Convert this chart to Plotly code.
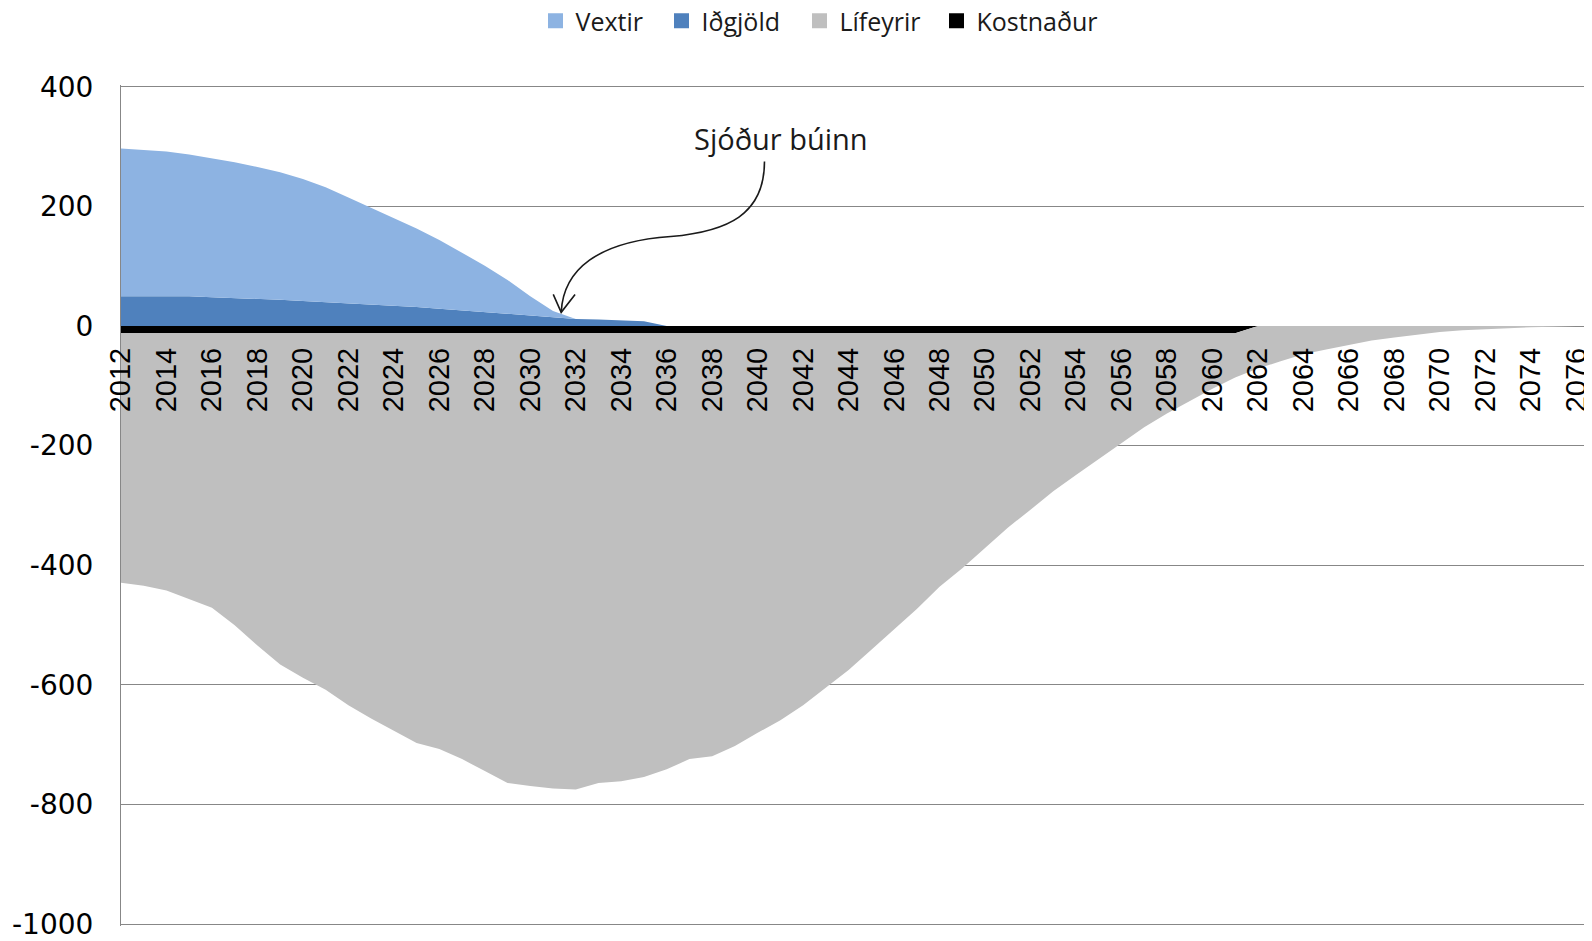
import plotly.graph_objects as go

years = list(range(2012, 2077))

vextir = [247, 245, 242, 237, 233, 227, 221, 213, 204, 192,
          176, 161, 146, 131, 115, 97, 78, 57, 33, 11] + [0] * 45

idgjold = [50, 50, 50, 50, 48, 47, 45, 44, 42, 40,
           39, 37, 35, 32, 29, 26, 23, 20, 17, 14,
           12, 11, 10, 8] + [0] * 41

kostnadur = [-12] * 50 + [0] * 15

lifeyrir = [-417, -422, -430, -444, -459, -488, -522, -554, -576, -596,
            -622, -644, -664, -685, -695, -712, -732, -752, -757, -761,
            -763, -752, -749, -742, -729, -712, -707, -690, -668, -647,
            -622, -593, -563, -529, -495, -461, -424, -393, -359, -325,
            -295, -264, -237, -210, -183, -157, -134, -113, -93, -74,
            -71, -59, -47, -39, -31, -24, -19, -14, -10, -7,
            -5, -3, -2, -1, 0]

tick_years = years[::2]
tick_labels = [str(y) for y in tick_years]

y_ticks = [400, 200, 0, -200, -400, -600, -800, -1000]
y_labels = ["400", "200", "0", "-200", "-400", "-600", "-800", "-1000"]

legend_names = ["Vextir", "Iðgjöld", "Lífeyrir", "Kostnaður"]

C_VEXTIR = "#8DB3E2"
C_IDGJOLD = "#4F81BD"
C_LIFEYRIR = "#BFBFBF"
C_KOSTN = "#000000"
legend_colors = [C_VEXTIR, C_IDGJOLD, C_LIFEYRIR, C_KOSTN]

Y_MIN, Y_MAX = -1003, 403
PAGE_OFF = 8          # default body margin of the html page
FIG_W, FIG_H = 1584, 933

fig = go.Figure()

# positive stack
fig.add_trace(go.Scatter(x=years, y=idgjold, stackgroup="pos", mode="lines",
                         line=dict(width=0, color=C_IDGJOLD), fillcolor=C_IDGJOLD,
                         showlegend=False, name="Iðgjöld"))
fig.add_trace(go.Scatter(x=years, y=vextir, stackgroup="pos", mode="lines",
                         line=dict(width=0, color=C_VEXTIR), fillcolor=C_VEXTIR,
                         showlegend=False, name="Vextir"))
# negative stack
fig.add_trace(go.Scatter(x=years, y=kostnadur, stackgroup="neg", mode="lines",
                         line=dict(width=0, color=C_KOSTN), fillcolor=C_KOSTN,
                         showlegend=False, name="Kostnaður"))
fig.add_trace(go.Scatter(x=years, y=lifeyrir, stackgroup="neg", mode="lines",
                         line=dict(width=0, color=C_LIFEYRIR), fillcolor=C_LIFEYRIR,
                         showlegend=False, name="Lífeyrir"))

# legend entries: one small legend per item so the spacing follows the original
legend_left_px = [548, 674, 812, 949]   # left edge of each swatch, page pixels
LEGEND_CY = 21                           # vertical centre of the legend row, page pixels
legend_layout = {}
for i, (name, col, px) in enumerate(zip(legend_names, legend_colors, legend_left_px)):
    key = "legend" if i == 0 else f"legend{i + 1}"
    fig.add_trace(go.Scatter(x=[None], y=[None], mode="markers", name=name,
                             legend=key,
                             marker=dict(symbol="square", size=15, color=col)))
    legend_layout[key] = dict(
        orientation="h", xref="container", yref="container",
        x=(px - 12.5 - PAGE_OFF) / FIG_W, y=1 - (LEGEND_CY - PAGE_OFF) / FIG_H,
        xanchor="left", yanchor="middle",
        font=dict(family="Open Sans", size=25, color="#1a1a1a"),
        itemwidth=30, bgcolor="rgba(0,0,0,0)", borderwidth=0)

# curved arrow (decoration) in data coordinates
curve = ("M 2040.30,274.9 C 2040.30,186.4 2038.68,158.0 2036.18,149.7 "
         "C 2032.98,141.4 2031.45,94.6 2031.36,22.9")
head = "M 2031.01,52.9 L 2031.36,22.9 L 2031.97,52.9"
fig.add_shape(type="path", path=curve, xref="x", yref="y",
              line=dict(color="#1a1a1a", width=1.6))
fig.add_shape(type="path", path=head, xref="x", yref="y",
              line=dict(color="#1a1a1a", width=1.6))

fig.add_annotation(x=2041.04, y=313, xref="x", yref="y", text="Sjóður búinn",
                   showarrow=False, font=dict(family="Open Sans", size=29, color="#1a1a1a"))

fig.update_layout(
    width=FIG_W, height=FIG_H,
    margin=dict(l=113, r=0, t=77, b=13, pad=0),
    paper_bgcolor="white", plot_bgcolor="white",
    xaxis=dict(range=[2012, 2076.43], anchor="free",
               position=(0 - Y_MIN) / (Y_MAX - Y_MIN),
               tickmode="array", tickvals=tick_years, ticktext=tick_labels,
               tickangle=-90, tickfont=dict(family="Liberation Sans", size=29, color="black"),
               showgrid=False, showline=False, zeroline=False, ticks="",
               ticklabelstandoff=15, ticklabeloverflow="allow"),
    yaxis=dict(range=[Y_MIN, Y_MAX], tickmode="array", tickvals=y_ticks, ticktext=y_labels,
               showgrid=True, gridcolor="#878787", gridwidth=1,
               showline=True, linecolor="#878787", linewidth=1,
               zeroline=False, ticks="",
               tickfont=dict(family="DejaVu Sans", size=28, color="black"),
               ticklabelstandoff=21, ticklabeloverflow="allow"),
    **legend_layout,
)

fig.write_html("out.html")
